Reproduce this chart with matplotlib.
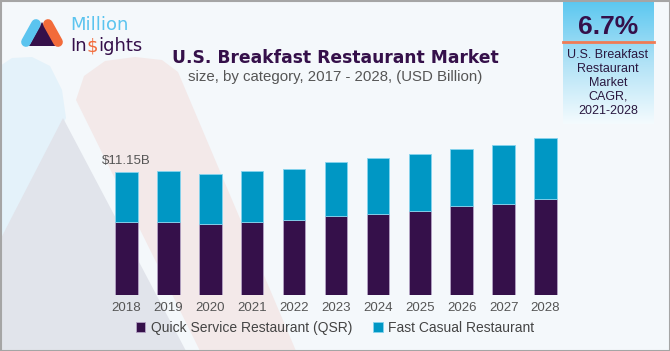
import numpy as np
import matplotlib.pyplot as plt
from matplotlib.patches import Polygon, Rectangle
from matplotlib.colors import LinearSegmentedColormap

# Данные графика (USD Billion)
years = ['2018', '2019', '2020', '2021', '2022', '2023', '2024', '2025', '2026', '2027', '2028']
qsr = [6.66, 6.66, 6.48, 6.66, 6.82, 7.18, 7.36, 7.61, 8.09, 8.30, 8.70]
fast_casual = [4.49, 4.61, 4.52, 4.61, 4.66, 4.91, 5.06, 5.21, 5.21, 5.34, 5.57]
first_label = '$11.15B'
series_names = ['Quick Service Restaurant (QSR)', 'Fast Casual Restaurant']

PURPLE = '#35104a'
BLUE = '#0097c4'
plt.rcParams['font.family'] = ['Liberation Sans', 'DejaVu Sans']

fig = plt.figure(figsize=(6.7, 3.51), dpi=100)
fig.patch.set_facecolor('#f4f8fb')

# Фон с декоративными фигурами (пиксельные координаты)
bg = fig.add_axes([0, 0, 1, 1])
bg.set_xlim(0, 670)
bg.set_ylim(351, 0)
bg.axis('off')
bg.add_patch(Polygon([(0, 66), (12, 58), (32, 57), (50, 66), (62, 90), (66, 118),
                      (0, 240)], closed=True, color='#e4f2fa', lw=0))
bg.add_patch(Polygon([(76, 100), (84, 76), (105, 61), (135, 57), (162, 60), (178, 72),
                      (296, 351), (200, 351)], closed=True, color='#f3e9e9', lw=0))
bg.add_patch(Polygon([(0, 240), (63, 118), (186, 351), (0, 351)],
                     closed=True, color='#e1e4eb', lw=0))

# Логотип
bg.plot([26, 36], [42, 24], color='#5bc4ef', lw=7, solid_capstyle='round')
bg.plot([48, 58], [24, 42], color='#f26b3a', lw=7, solid_capstyle='round')
bg.add_patch(Polygon([(42, 22), (29, 46), (56, 46)], closed=True, color=PURPLE, lw=0))
bg.text(70, 25, 'Million', fontsize=13, color='#5bc4ef', va='center', ha='left',
        family='DejaVu Sans')
fig.canvas.draw()
renderer = fig.canvas.get_renderer()
xpos = 70
for part, col in [('In', PURPLE), ('$', '#f26b3a'), ('ights', PURPLE)]:
    t = bg.text(xpos, 46, part, fontsize=13, color=col, va='center', ha='left',
                family='DejaVu Sans')
    ext = t.get_window_extent(renderer)
    xpos += ext.width

# Панель CAGR
grad = np.linspace(0, 1, 200).reshape(-1, 1)
cmap = LinearSegmentedColormap.from_list('cagr', ['#5ac7f0', '#b0e2f6', '#f4fbfe'])
bg.imshow(grad, cmap=cmap, extent=[563, 654, 124, 0], aspect='auto', zorder=1)
bg.plot([563, 654], [42, 42], color='#f07b54', lw=2, zorder=2)
bg.text(608, 27, '6.7%', fontsize=19, fontweight='bold', color=PURPLE,
        ha='center', va='center', zorder=3)
bg.text(608, 83, 'U.S. Breakfast\nRestaurant\nMarket\nCAGR,\n2021-2028', fontsize=9,
        color='#2a1840', ha='center', va='center', linespacing=1.22, zorder=3)

# Заголовок
bg.text(335, 58, 'U.S. Breakfast Restaurant Market', fontsize=12.3, fontweight='bold',
        color=PURPLE, ha='center', va='center', family='DejaVu Sans')
bg.text(335, 77, 'size, by category, 2017 - 2028, (USD Billion)', fontsize=10.8,
        color='#555555', ha='center', va='center')

# Рамка
bg.add_patch(Rectangle((0.5, 0.5), 669, 350, fill=False, ec='#a5a5a5', lw=1.5))

# Основной график
ax = fig.add_axes([105.5 / 670, (351 - 295) / 351, 461 / 670, 165 / 351])
ax.patch.set_alpha(0)
x = np.arange(len(years))
ax.bar(x, qsr, width=0.54, color=PURPLE, edgecolor='#b4a3c4', linewidth=0.6,
       label=series_names[0])
ax.bar(x, fast_casual, bottom=qsr, width=0.54, color=BLUE, edgecolor='#86d4ee',
       linewidth=0.6, label=series_names[1])
ax.text(x[0], qsr[0] + fast_casual[0] + 0.45, first_label, ha='center', va='bottom',
        fontsize=9.5, color='#555555')
ax.set_xlim(-0.5, 10.5)
ax.set_ylim(0, 15)
ax.set_xticks(x)
ax.set_xticklabels(years, fontsize=9.5, color='#555555')
ax.tick_params(axis='x', length=0, pad=5)
ax.set_yticks([])
for s in ax.spines.values():
    s.set_visible(False)

fig.legend(loc='center', bbox_to_anchor=(335 / 670, 1 - 328 / 351), ncol=2,
           frameon=False, fontsize=10, handlelength=0.7, handleheight=0.7,
           handletextpad=0.4, columnspacing=1.5, labelcolor='#444444')

fig.savefig('out.png', dpi=100, facecolor=fig.get_facecolor())
